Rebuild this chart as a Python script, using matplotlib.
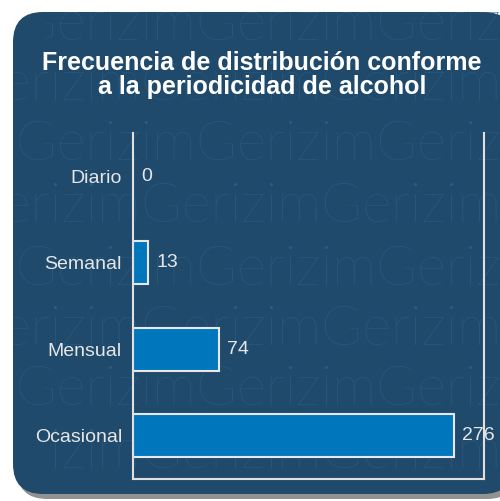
import matplotlib
matplotlib.use("Agg")
import matplotlib.pyplot as plt
from matplotlib.patches import FancyBboxPatch
from matplotlib.transforms import Bbox

categories = ["Diario", "Semanal", "Mensual", "Ocasional"]
values = [0, 13, 74, 276]
title = "Frecuencia de distribución conforme\na la periodicidad de alcohol"
watermark = "mGerizimGerizimGerizim"

plt.rcParams['font.family'] = ['Liberation Sans', 'DejaVu Sans']

W, H = 500, 501
fig = plt.figure(figsize=(W / 100, H / 100), dpi=100)
fig.patch.set_facecolor('white')

bg = '#1f4a6c'
sh = FancyBboxPatch((17 / W, 1 - 499 / H), 500 / W, 486 / H,
                    boxstyle="round,pad=0,rounding_size=0.06",
                    transform=fig.transFigure, facecolor='#4a4a4a', edgecolor='none',
                    alpha=0.6, zorder=0)
fig.patches.append(sh)
panel = FancyBboxPatch((13 / W, 1 - 494 / H), 500 / W, 482 / H,
                       boxstyle="round,pad=0,rounding_size=0.06",
                       transform=fig.transFigure, facecolor=bg, edgecolor='none', zorder=1)
fig.patches.append(panel)

# faint watermark rows (clipped to panel interior)
wm_rows = [(40, -40), (100, -95), (160, -40), (222, -95), (285, -40),
           (345, -95), (405, -40), (468, -95)]
for yb, x0 in wm_rows:
    left = 13 if 60 < yb < 440 else 45
    top = max(12, yb - 50)
    bot = min(494, yb + 12)
    t = fig.text((13 + x0) / W, 1 - yb / H, watermark, fontsize=40,
                 family=['Lato', 'DejaVu Sans'], fontweight='light',
                 color='#2a5c82', ha='left', va='baseline', zorder=1.5)
    t.set_clip_box(Bbox([[left, H - bot], [W, H - top]]))
    t.set_clip_on(True)

fig.text(262 / W, 1 - 75 / H, title, ha='center', va='center', fontsize=18,
         fontweight='bold', color='white', linespacing=0.98, zorder=3)

ax = fig.add_axes([133 / W, 1 - 479 / H, (484 - 133) / W, (479 - 133) / H])
ax.set_facecolor('none')
ax.set_zorder(3)
y = list(range(len(categories)))
ax.barh(y, values, height=0.5, color='#0077bd', edgecolor='#e8e8e8', linewidth=1.5)
ax.set_ylim(len(categories) - 0.5, -0.5)
ax.set_xlim(0, 302)
ax.set_yticks(y)
ax.set_yticklabels(categories)
ax.set_xticks([])
ax.tick_params(axis='y', length=0, pad=8, labelsize=14, labelcolor='#e6e6e6')
for s in ['left', 'right', 'bottom']:
    ax.spines[s].set_color('#e0e0e0')
    ax.spines[s].set_linewidth(1.5)
ax.spines['top'].set_visible(False)
for yi, v in zip(y, values):
    ax.annotate(str(v), (v, yi), xytext=(6, 0), textcoords='offset points',
                ha='left', va='center', fontsize=14, color='#e6e6e6',
                annotation_clip=False)

fig.savefig('out.png', dpi=100, facecolor='white')
